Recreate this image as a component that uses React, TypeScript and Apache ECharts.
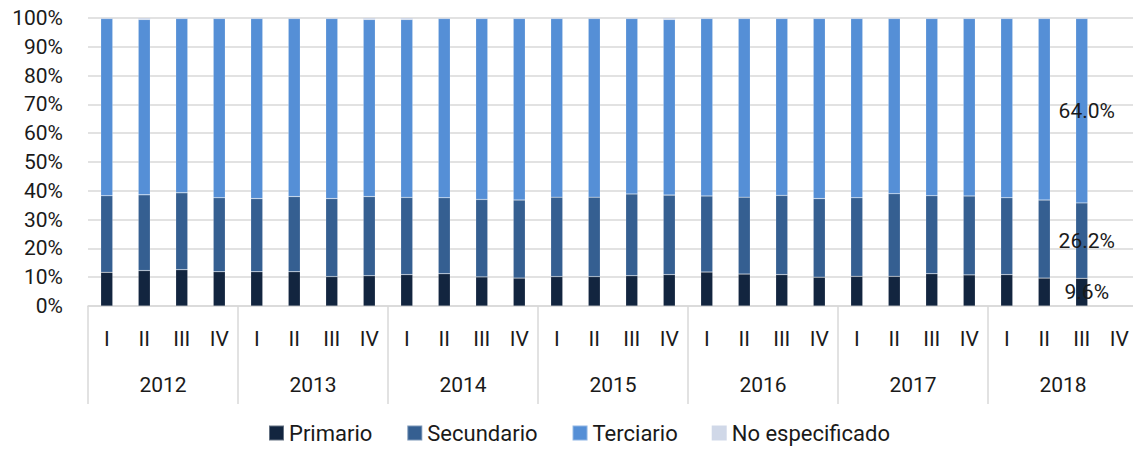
import React, { useEffect, useRef } from "react";
import * as echarts from "echarts";

const quarters = [
  "I","II","III","IV","I","II","III","IV","I","II","III","IV","I","II","III","IV",
  "I","II","III","IV","I","II","III","IV","I","II","III","IV",
];
const years = ["2012", "2013", "2014", "2015", "2016", "2017", "2018"];

const primario = [
  11.7, 12.3, 12.6, 11.9, 11.9, 11.9, 10.2, 10.5,
  10.9, 11.2, 10.1, 9.7, 10.2, 10.2, 10.5, 10.9,
  11.8, 11.1, 10.9, 10.0, 10.3, 10.3, 11.2, 10.8,
  10.9, 9.7, 9.6, null,
];
const secundario = [
  26.6, 26.3, 26.7, 25.7, 25.4, 26.1, 27.1, 27.5,
  26.8, 26.4, 26.9, 27.1, 27.6, 27.6, 28.4, 27.6,
  26.4, 26.7, 27.5, 27.3, 27.3, 28.7, 27.1, 27.4,
  26.7, 27.1, 26.2, null,
];
const noEspecificado = [
  0.2, 0.5, 0.2, 0.2, 0.2, 0.2, 0.2, 0.5,
  0.5, 0.2, 0.2, 0.2, 0.2, 0.2, 0.2, 0.5,
  0.2, 0.2, 0.2, 0.2, 0.2, 0.2, 0.2, 0.2,
  0.2, 0.2, 0.2, null,
];
const terciario = [
  61.5, 60.9, 60.5, 62.2, 62.5, 61.8, 62.5, 61.5,
  61.8, 62.2, 62.8, 63.0, 62.0, 62.0, 60.9, 61.0,
  61.6, 62.0, 61.4, 62.5, 62.2, 60.8, 61.5, 61.6,
  62.2, 63.0, 64.0, null,
];
const labeledIndex = 26;

const FONT = "Roboto";
const TEXT = "#1a1a1a";
const FS = 21;

function withLabel(arr: (number | null)[]) {
  return arr.map((v, i) =>
    i === labeledIndex
      ? {
          value: v,
          label: {
            show: true,
            position: "inside",
            offset: [5, 0],
            color: TEXT,
            fontFamily: FONT,
            fontSize: FS,
            formatter: (p: any) => Number(p.value).toFixed(1) + "%",
          },
        }
      : v
  );
}

export default function App() {
  const ref = useRef<HTMLDivElement>(null);
  useEffect(() => {
    if (!ref.current) return;
    document.documentElement.style.overflow = "hidden";
    document.body.style.overflow = "hidden";
    const chart = echarts.init(ref.current, undefined, { renderer: "svg" });
    const border = { borderColor: "rgba(255,255,255,0.35)", borderWidth: 0.5 };
    chart.setOption({
      animation: false,
      textStyle: { fontFamily: FONT },
      grid: { left: 88, right: 2, top: 18, bottom: 143, containLabel: false },
      legend: {
        bottom: 0,
        left: 263,
        itemWidth: 15,
        itemHeight: 15,
        itemGap: 34,
        icon: "rect",
        textStyle: { fontFamily: FONT, fontSize: 22, color: TEXT },
        data: ["Primario", "Secundario", "Terciario", "No especificado"],
      },
      xAxis: [
        {
          type: "category",
          data: quarters,
          position: "bottom",
          axisLine: { show: true, lineStyle: { color: "#d9d9d9", width: 1.5 } },
          axisTick: { show: false },
          axisLabel: { interval: 0, margin: 22, color: TEXT, fontSize: FS, fontFamily: FONT },
        },
        {
          type: "category",
          data: years,
          position: "bottom",
          offset: 0,
          axisLine: { show: false },
          axisTick: { show: true, length: 98, lineStyle: { color: "#d9d9d9", width: 1.5 } },
          axisLabel: { interval: 0, margin: 68, color: TEXT, fontSize: FS, fontFamily: FONT },
        },
      ],
      yAxis: {
        type: "value",
        min: 0,
        max: 100,
        interval: 10,
        axisLine: { show: false },
        axisTick: { show: false },
        axisLabel: { formatter: "{value}%", margin: 25, color: TEXT, fontSize: FS, fontFamily: FONT },
        splitLine: { lineStyle: { color: "#d9d9d9", width: 1.5 } },
      },
      series: [
        { name: "Primario", type: "bar", stack: "t", barWidth: 12, data: withLabel(primario), itemStyle: { color: "#12253f", ...border } },
        { name: "Secundario", type: "bar", stack: "t", barWidth: 12, data: withLabel(secundario), itemStyle: { color: "#355f91", ...border } },
        { name: "Terciario", type: "bar", stack: "t", barWidth: 12, data: withLabel(terciario), itemStyle: { color: "#558fd6", ...border } },
        { name: "No especificado", type: "bar", stack: "t", barWidth: 12, data: noEspecificado, itemStyle: { color: "#d0d8e8" } },
      ],
    });
    return () => chart.dispose();
  }, []);
  return (
    <div
      ref={ref}
      style={{ position: "absolute", left: 0, top: 0, width: 1140, height: 449 }}
    />
  );
}
